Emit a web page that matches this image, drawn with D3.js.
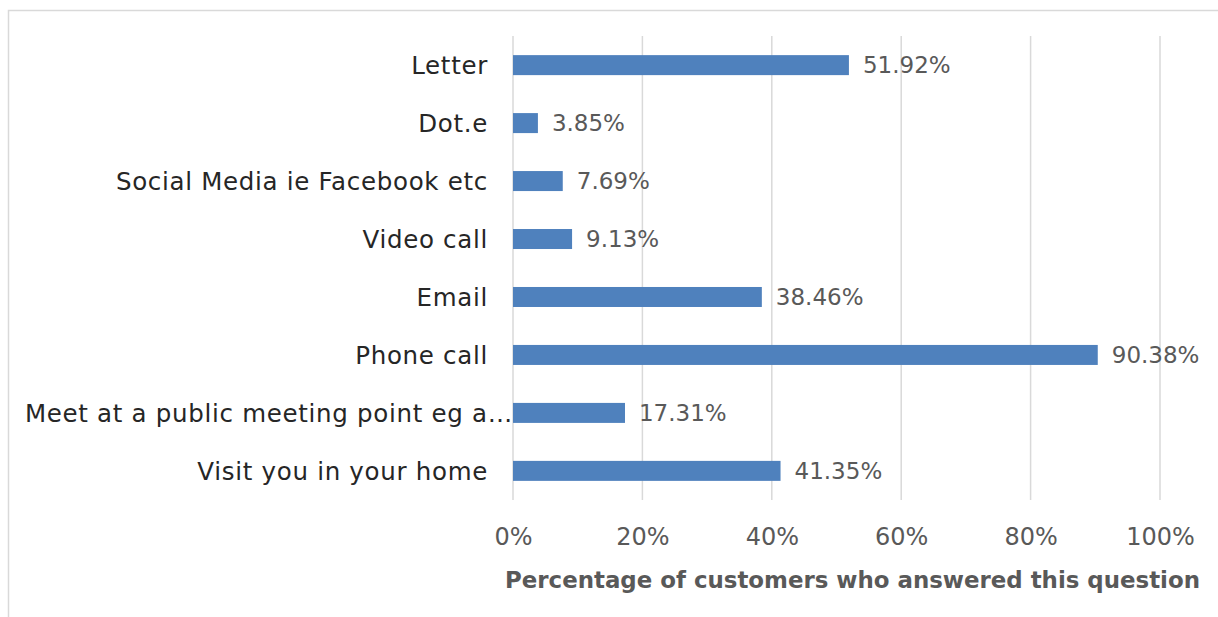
<!DOCTYPE html>
<html>
<head>
<meta charset="utf-8">
<script src="https://cdn.jsdelivr.net/npm/d3@7"></script>
<style>
  body { margin: 0; background: #fff; }
  text { font-family: "DejaVu Sans", "Noto Sans", sans-serif; }
</style>
</head>
<body>
<script>
// data
var categories = [
  "Letter",
  "Dot.e",
  "Social Media ie Facebook etc",
  "Video call",
  "Email",
  "Phone call",
  "Meet at a public meeting point eg a\u2026",
  "Visit you in your home"
];
var values = [51.92, 3.85, 7.69, 9.13, 38.46, 90.38, 17.31, 41.35];
var tickValues = [0, 20, 40, 60, 80, 100];
var axisTitle = "Percentage of customers who answered this question";

var width = 1218, height = 617;
var margin = { top: 36, right: 58, bottom: 117, left: 513 };
var fontFamily = "'DejaVu Sans', 'Noto Sans', sans-serif";

var svg = d3.select("body").append("svg")
  .attr("width", width)
  .attr("height", height);

// outer frame (cropped on right/bottom)
svg.append("rect")
  .attr("x", 8.5).attr("y", 10.5)
  .attr("width", 1240).attr("height", 640)
  .attr("fill", "none")
  .attr("stroke", "#d9d9d9")
  .attr("stroke-width", 1.5);

var x = d3.scaleLinear().domain([0, 100]).range([margin.left, width - margin.right]);
var y = d3.scaleBand().domain(categories)
  .range([margin.top, height - margin.bottom])
  .paddingInner(0.655).paddingOuter(0.33);

// gridlines
svg.append("g")
  .selectAll("line")
  .data(tickValues)
  .enter().append("line")
  .attr("x1", function(d) { return x(d); })
  .attr("x2", function(d) { return x(d); })
  .attr("y1", margin.top)
  .attr("y2", height - margin.bottom)
  .attr("stroke", "#d9d9d9")
  .attr("stroke-width", 1.5);

// bars
svg.append("g")
  .selectAll("rect")
  .data(values)
  .enter().append("rect")
  .attr("x", x(0))
  .attr("y", function(d, i) { return y(categories[i]); })
  .attr("width", function(d) { return x(d) - x(0); })
  .attr("height", y.bandwidth())
  .attr("fill", "#4f81bd");

// value labels
svg.append("g")
  .selectAll("text")
  .data(values)
  .enter().append("text")
  .attr("x", function(d) { return x(d) + 14; })
  .attr("y", function(d, i) { return y(categories[i]) + y.bandwidth() / 2; })
  .attr("dy", "0.36em")
  .attr("font-size", 23)
  .attr("fill", "#595959")
  .text(function(d) { return d.toFixed(2) + "%"; });

// category axis
var yAxis = svg.append("g")
  .attr("transform", "translate(" + (x(0) - 25) + ",0)")
  .call(d3.axisLeft(y).tickSize(0).tickPadding(0));
yAxis.select(".domain").remove();
yAxis.selectAll("text")
  .attr("font-size", 24.5)
  .attr("fill", "#262626")
  .attr("dy", "0.36em")
  .style("letter-spacing", "0.7px")
  .style("font-family", fontFamily);
// the truncated label sits tight against the axis
yAxis.selectAll(".tick").filter(function(d) { return d.indexOf("Meet") === 0; })
  .select("text").attr("x", 25);

// value axis
var xAxis = svg.append("g")
  .attr("transform", "translate(0," + (height - margin.bottom) + ")")
  .call(d3.axisBottom(x).tickValues(tickValues).tickSize(0).tickPadding(28)
    .tickFormat(function(d) { return d + "%"; }));
xAxis.select(".domain").remove();
xAxis.selectAll("text")
  .attr("font-size", 24)
  .attr("fill", "#595959")
  .style("font-family", fontFamily);

svg.append("text")
  .attr("x", x(50) + 16)
  .attr("y", 588)
  .attr("text-anchor", "middle")
  .attr("font-size", 22.9)
  .attr("font-weight", "bold")
  .attr("fill", "#595959")
  .text(axisTitle);
</script>
</body>
</html>
